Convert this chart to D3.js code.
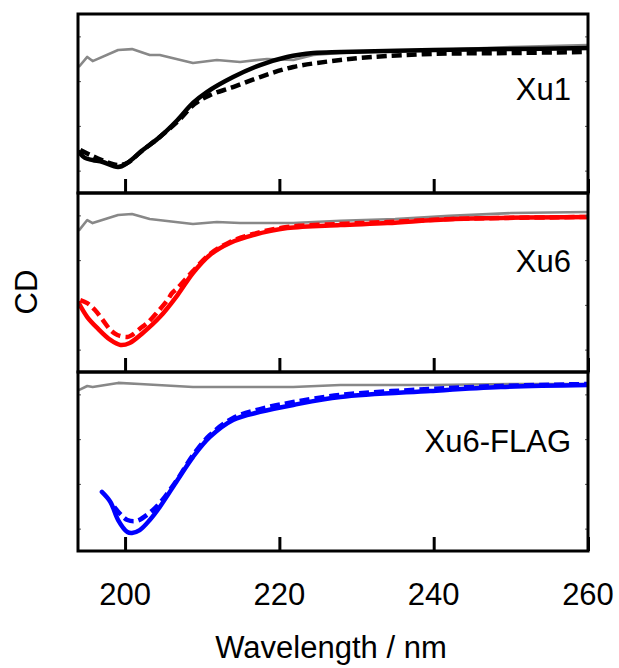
<!DOCTYPE html>
<html>
<head>
<meta charset="utf-8">
<script src="https://cdn.jsdelivr.net/npm/d3@7"></script>
<style>
  body { margin: 0; background: #fff; }
  text { font-family: "Liberation Sans", Arial, sans-serif; fill: #000; }
</style>
</head>
<body>
<svg id="chart" width="619" height="668"></svg>
<script>
// CD spectra, arbitrary units (0 = top of panel, -100 = bottom)
const xTicks = [200, 220, 240, 260];
const panelNames = ["Xu1", "Xu6", "Xu6-FLAG"];
const panelColors = ["#000000", "#ff0000", "#0000ff"];

// buffer (gray) traces
const xu1Buffer = [[194, -29.6], [195.1, -24.0], [195.8, -26.3], [199.1, -20.1], [200.9, -19.6], [203.2, -22.9], [204.5, -22.9], [208.8, -27.4], [211.9, -25.7], [214.9, -26.8], [218.4, -25.1], [221.8, -25.7], [224.4, -22.9], [227.9, -21.8], [235, -20.7], [240, -20.1], [250, -18.4], [260, -17.3]];
const xu6Buffer = [[194, -21], [195.1, -15.1], [195.8, -16.8], [199.1, -12.3], [200.9, -11.7], [203.2, -14.5], [208.8, -17.3], [211.9, -16.2], [214.9, -16.8], [221.8, -16.8], [227.9, -15.5], [235, -14.5], [242, -12.8], [250, -11.2], [260, -10.6]];
const flagBuffer = [[194, -10.1], [195.1, -7.8], [195.8, -8.4], [199.1, -6.1], [201.9, -6.7], [208.8, -8.4], [214.9, -8.4], [221.8, -8.4], [227.9, -7.3], [240, -7.3], [250, -6.7], [260, -6.7]];

// solid traces
const xu1Solid = [[194.0, -77.1], [194.8, -80.4], [195.8, -81.6], [197.1, -82.7], [199.1, -85.5], [200.3, -83.2], [202.3, -76.0], [204.5, -68.7], [206.8, -59.2], [208.8, -49.7], [210.6, -43.6], [214.0, -35.2], [217.5, -28.5], [221.0, -24.0], [224.4, -21.8], [228, -21.2], [240, -20.1], [250, -19.6], [260, -19.0]];
const xu6Solid = [[194.0, -61.5], [195.1, -69.3], [196.4, -75.4], [198.1, -82.1], [199.4, -84.9], [200.6, -83.8], [202.3, -78.2], [204.5, -69.3], [206.8, -57.0], [208.8, -44.7], [211.0, -34.6], [213.6, -27.9], [216.6, -23.5], [221.0, -19.6], [227.9, -17.9], [234, -16.8], [242.6, -14.5], [260, -13.4]];
const flagSolid = [[197.0, -67.0], [198.1, -72.6], [199.1, -82.7], [200.3, -89.4], [200.9, -89.9], [201.9, -88.3], [203.2, -82.7], [204.5, -75.4], [206.8, -60.3], [208.8, -47.5], [211.0, -36.3], [214.0, -26.8], [217.5, -22.3], [221.8, -18.4], [227.9, -14.0], [239.6, -10.6], [248.7, -8.4], [260, -7.3]];

// dashed traces
const xu1Dashed = [[194.2, -76.0], [195.5, -78.8], [197, -81.6], [199, -84.4], [200.3, -83.2], [202, -77.1], [204.5, -68.7], [207, -59.2], [209, -50.3], [211, -45.3], [214, -40.8], [217.5, -35.2], [221.8, -29.6], [227.9, -25.7], [232, -24.0], [240, -22.3], [250, -21.8], [260, -21.2]];
const xu6Dashed = [[194.2, -59.8], [195.1, -61.5], [196.1, -65.4], [197.1, -70.9], [198.1, -76.5], [199.0, -79.3], [200.3, -80.4], [200.9, -79.3], [202.2, -74.9], [202.9, -72.6], [204.2, -66.5], [205.5, -59.8], [206.1, -55.9], [206.8, -53.1], [208.8, -43.6], [211, -34.1], [213.6, -27.4], [216.6, -22.9], [221, -19.0], [227.9, -17.3], [234, -16.2], [242.6, -14.5], [260, -13.4]];
const flagDashed = [[198.6, -75.4], [199.5, -79.9], [200.3, -82.7], [201.5, -83.2], [203, -79.3], [204.5, -73.2], [206.8, -59.8], [208.8, -46.4], [211, -35.2], [214, -25.7], [217.5, -20.7], [221.8, -16.8], [227.9, -12.8], [239.6, -9.5], [248.7, -7.8], [260, -6.7]];

const yTicks = [-12.5, -37.5, -62.5, -87.5];

const panels = [
  { name: panelNames[0], color: panelColors[0], buffer: xu1Buffer, solid: xu1Solid, dashed: xu1Dashed, labelY: 86 },
  { name: panelNames[1], color: panelColors[1], buffer: xu6Buffer, solid: xu6Solid, dashed: xu6Dashed, labelY: 79 },
  { name: panelNames[2], color: panelColors[2], buffer: flagBuffer, solid: flagSolid, dashed: flagDashed, labelY: 80 },
];

const svg = d3.select("#chart");

const plotLeft = 78;
const plotRight = 588;
const plotTop = 14;
const panelHeight = 179;

const x = d3.scaleLinear().domain([193.9, 260]).range([plotLeft, plotRight]);

panels.forEach((p, i) => {
  const y0 = plotTop + i * panelHeight;
  const y = d3.scaleLinear().domain([-100, 0]).range([y0 + panelHeight, y0]);
  const g = svg.append("g");

  const clipId = "clip" + i;
  g.append("clipPath")
    .attr("id", clipId)
    .append("rect")
    .attr("x", plotLeft)
    .attr("y", y0)
    .attr("width", plotRight - plotLeft)
    .attr("height", panelHeight);

  const smooth = d3
    .line()
    .x((d) => x(d[0]))
    .y((d) => y(d[1]))
    .curve(d3.curveCatmullRom);
  const straight = d3
    .line()
    .x((d) => x(d[0]))
    .y((d) => y(d[1]));

  const plot = g.append("g").attr("clip-path", `url(#${clipId})`);

  plot
    .append("path")
    .datum(p.buffer)
    .attr("d", straight)
    .attr("fill", "none")
    .attr("stroke", "#888888")
    .attr("stroke-width", 2.6)
    .attr("stroke-linejoin", "round");

  plot
    .append("path")
    .datum(p.solid)
    .attr("d", smooth)
    .attr("fill", "none")
    .attr("stroke", p.color)
    .attr("stroke-width", 4.5)
    .attr("stroke-linecap", "round")
    .attr("stroke-linejoin", "round");

  plot
    .append("path")
    .datum(p.dashed)
    .attr("d", smooth)
    .attr("fill", "none")
    .attr("stroke", p.color)
    .attr("stroke-width", 4.5)
    .attr("stroke-dasharray", "10,5");

  // inward x ticks on the bottom edge
  const xAxis = d3.axisBottom(x).tickValues(xTicks).tickSize(-14).tickFormat("");
  const ax = g.append("g").attr("transform", `translate(0,${y0 + panelHeight})`).call(xAxis);
  ax.select(".domain").remove();
  ax.selectAll(".tick line").attr("stroke", "#000").attr("stroke-width", 3);

  // small y ticks both sides
  const yl = g.append("g").attr("transform", `translate(${plotLeft},0)`)
    .call(d3.axisRight(y).tickValues(yTicks).tickSize(3).tickFormat(""));
  yl.select(".domain").remove();
  yl.selectAll(".tick line").attr("stroke", "#555").attr("stroke-width", 1);
  const yr = g.append("g").attr("transform", `translate(${plotRight},0)`)
    .call(d3.axisLeft(y).tickValues(yTicks).tickSize(3).tickFormat(""));
  yr.select(".domain").remove();
  yr.selectAll(".tick line").attr("stroke", "#555").attr("stroke-width", 1);

  g.append("rect")
    .attr("x", plotLeft)
    .attr("y", y0)
    .attr("width", plotRight - plotLeft)
    .attr("height", panelHeight)
    .attr("fill", "none")
    .attr("stroke", "#000")
    .attr("stroke-width", 3);

  g.append("text")
    .attr("x", 571)
    .attr("y", y0 + p.labelY)
    .attr("text-anchor", "end")
    .style("font-size", "31px")
    .text(p.name);
});

// tick labels under the bottom panel
svg
  .append("g")
  .selectAll("text")
  .data(xTicks)
  .enter()
  .append("text")
  .attr("x", (d) => x(d))
  .attr("y", 605)
  .attr("text-anchor", "middle")
  .style("font-size", "31px")
  .text((d) => d);

svg
  .append("text")
  .attr("x", 331)
  .attr("y", 658)
  .attr("text-anchor", "middle")
  .style("font-size", "31px")
  .text("Wavelength / nm");

svg
  .append("text")
  .attr("transform", "translate(37,292) rotate(-90)")
  .attr("text-anchor", "middle")
  .style("font-size", "31px")
  .text("CD");
</script>
</body>
</html>
